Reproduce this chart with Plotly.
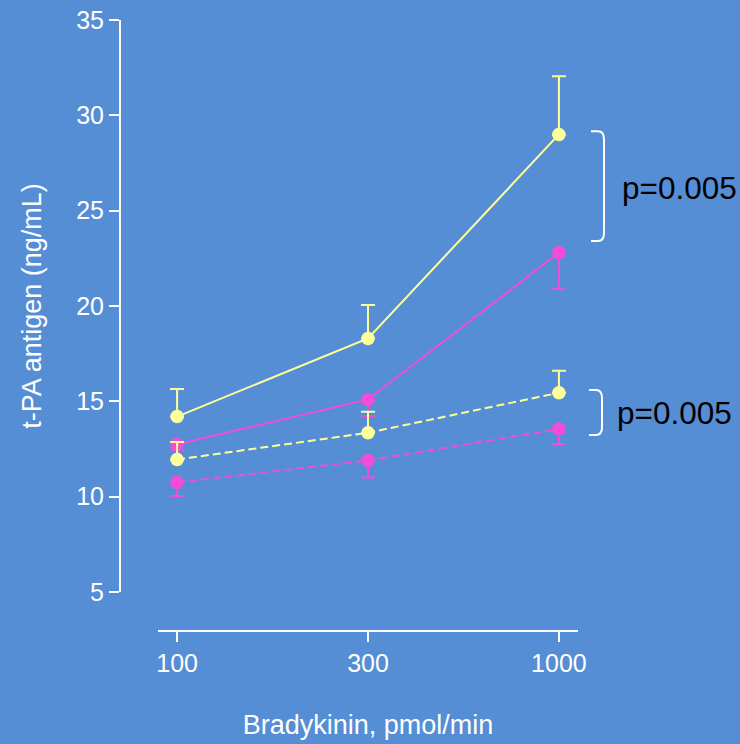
import plotly.graph_objects as go

# ---- data ----
doses = ["100", "300", "1000"]
yellow_solid = [14.2, 18.3, 29.0]
yellow_solid_err_plus = [1.45, 1.75, 3.05]
magenta_solid = [12.75, 15.1, 22.8]
magenta_solid_err_minus = [0.3, 0.9, 1.9]
yellow_dashed = [11.95, 13.35, 15.45]
yellow_dashed_err_plus = [0.92, 1.1, 1.15]
magenta_dashed = [10.75, 11.9, 13.55]
magenta_dashed_err_minus = [0.72, 0.9, 0.8]
y_ticks = [5, 10, 15, 20, 25, 30, 35]
p_labels = ["p=0.005", "p=0.005"]
bracket_y = [(29.17, 23.41), (15.59, 13.23)]

# ---- style ----
BG = "#558ed5"
YEL = "#ffff99"
MAG = "#f24dd6"
FONT = "Liberation Sans, Arial, sans-serif"

W, H = 740, 744
ML, MR, MT, MB = 120, 162, 20, 113
PW = W - ML - MR
PH = H - MT - MB


def px_to_paper_x(px):
    return (px - ML) / PW


fig = go.Figure()


def add_series(y, color, dash, plus=None, minus=None):
    n = len(y)
    err = dict(
        type="data",
        symmetric=False,
        array=plus if plus is not None else [0] * n,
        arrayminus=minus if minus is not None else [0] * n,
        color=color,
        thickness=2,
        width=7,
    )
    fig.add_trace(
        go.Scatter(
            x=doses,
            y=y,
            mode="lines+markers",
            line=dict(color=color, width=2, dash=dash),
            marker=dict(color=color, size=13.5),
            error_y=err,
            showlegend=False,
            cliponaxis=False,
        )
    )


add_series(magenta_dashed, MAG, "8px,4px", minus=magenta_dashed_err_minus)
add_series(magenta_solid, MAG, "solid", minus=magenta_solid_err_minus)
add_series(yellow_dashed, YEL, "8px,4px", plus=yellow_dashed_err_plus)
add_series(yellow_solid, YEL, "solid", plus=yellow_solid_err_plus)

# brackets
ypx = (PH - 39) / 30.0  # pixels per data unit
bracket_x = [(591, 604), (589, 602)]
text_pos = [(620, 26.19), (615, 14.39)]
shapes = []
for (xa, xb), (yt, yb) in zip(bracket_x, bracket_y):
    x0 = px_to_paper_x(xa)
    x1 = px_to_paper_x(xb)
    xc = px_to_paper_x(xb - 6)
    r = 8 / ypx
    path = (
        f"M {x0},{yt} L {xc},{yt} Q {x1},{yt} {x1},{yt - r} "
        f"L {x1},{yb + r} Q {x1},{yb} {xc},{yb} L {x0},{yb}"
    )
    shapes.append(
        dict(type="path", xref="paper", yref="y", path=path,
             line=dict(color="white", width=2))
    )

annotations = []
for (tx, ty), lab in zip(text_pos, p_labels):
    annotations.append(
        dict(x=px_to_paper_x(tx), y=ty, xref="paper", yref="y",
             text=lab, showarrow=False, xanchor="left", yanchor="middle",
             font=dict(family=FONT, size=31.5, color="black"))
    )

fig.update_layout(
    width=W,
    height=H,
    margin=dict(l=ML, r=MR, t=MT, b=MB, autoexpand=False),
    paper_bgcolor=BG,
    plot_bgcolor=BG,
    shapes=shapes,
    annotations=annotations,
    font=dict(family=FONT, color="white"),
    xaxis=dict(
        type="category",
        categoryorder="array",
        categoryarray=doses,
        range=[-0.1, 2.1],
        domain=[38 / PW, 1],
        anchor="free",
        position=0,
        showline=True,
        linecolor="white",
        linewidth=2,
        ticks="outside",
        ticklen=10,
        tickwidth=2,
        tickcolor="white",
        showgrid=False,
        zeroline=False,
        tickfont=dict(family=FONT, size=25, color="white"),
        title=dict(text="Bradykinin, pmol/min", standoff=38,
                   font=dict(family=FONT, size=27, color="white")),
    ),
    yaxis=dict(
        range=[5, 35],
        domain=[39 / PH, 1],
        anchor="free",
        position=0,
        tickvals=y_ticks,
        showline=True,
        linecolor="white",
        linewidth=2,
        ticks="outside",
        ticklen=10,
        tickwidth=2,
        tickcolor="white",
        showgrid=False,
        zeroline=False,
        tickfont=dict(family=FONT, size=25, color="white"),
        title=dict(text="t-PA antigen (ng/mL)", standoff=26,
                   font=dict(family=FONT, size=27, color="white")),
    ),
)

fig.write_html("out.html")
